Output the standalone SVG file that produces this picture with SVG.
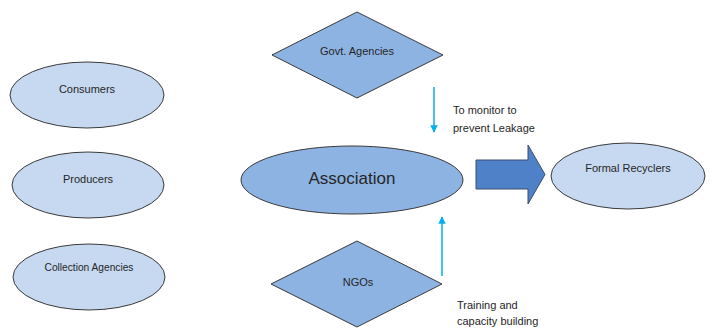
<svg xmlns="http://www.w3.org/2000/svg" width="712" height="329" viewBox="0 0 712 329">
<defs>
<style>
.light{fill:#c6d9f1;stroke:#3a3a3a;stroke-width:1}
.mid{fill:#8db3e2;stroke:#3a3a3a;stroke-width:1}
.lbl{font-family:"Liberation Sans",Arial,sans-serif;font-size:11px;fill:#262626;text-anchor:middle;dominant-baseline:central}
.note{font-family:"Liberation Sans",Arial,sans-serif;font-size:11px;fill:#262626}
.conn{stroke:#00b0f0;stroke-width:1.5;fill:none}
</style>
<marker id="ah" viewBox="0 0 10 10" refX="9" refY="5" markerWidth="5" markerHeight="5" orient="auto" markerUnits="strokeWidth">
<path d="M0,0 L10,5 L0,10 z" fill="#00b0f0"/>
</marker>
</defs>
<rect width="712" height="329" fill="#ffffff"/>
<g id="consumers">
<ellipse class="light" cx="87" cy="95" rx="77" ry="33"/>
<text class="lbl" x="87" y="89">Consumers</text>
</g>
<g id="producers">
<ellipse class="light" cx="88" cy="185" rx="76" ry="33"/>
<text class="lbl" x="88" y="179">Producers</text>
</g>
<g id="collection-agencies">
<ellipse class="light" cx="89" cy="277" rx="76" ry="33"/>
<text class="lbl" x="89" y="267" style="font-size:10.2px">Collection Agencies</text>
</g>
<g id="govt-agencies">
<polygon class="mid" points="357,12 443,55 357,98 272,55"/>
<text class="lbl" x="357" y="51">Govt. Agencies</text>
</g>
<g id="association">
<ellipse class="mid" cx="352" cy="180" rx="111" ry="34"/>
<text class="lbl" x="352" y="178" style="font-size:17px">Association</text>
</g>
<g id="ngos">
<polygon class="mid" points="357,241 442,284 357,327 271,284"/>
<text class="lbl" x="358" y="282">NGOs</text>
</g>
<g id="formal-recyclers">
<ellipse class="light" cx="628" cy="176" rx="77" ry="33"/>
<text class="lbl" x="628" y="168">Formal Recyclers</text>
</g>
<g id="connectors">
<polygon points="476,160 528,160 528,145 545,174.5 528,204 528,189 476,189" fill="#4f81c8" stroke="#3a4f6e" stroke-width="1"/>
<line class="conn" x1="434" y1="87" x2="434" y2="132" marker-end="url(#ah)"/>
<line class="conn" x1="442" y1="276" x2="442" y2="217" marker-end="url(#ah)"/>
<text class="note" x="453" y="114">To monitor to</text>
<text class="note" x="453" y="132">prevent Leakage</text>
<text class="note" x="457" y="309">Training and</text>
<text class="note" x="457" y="325">capacity building</text>
</g>
</svg>
